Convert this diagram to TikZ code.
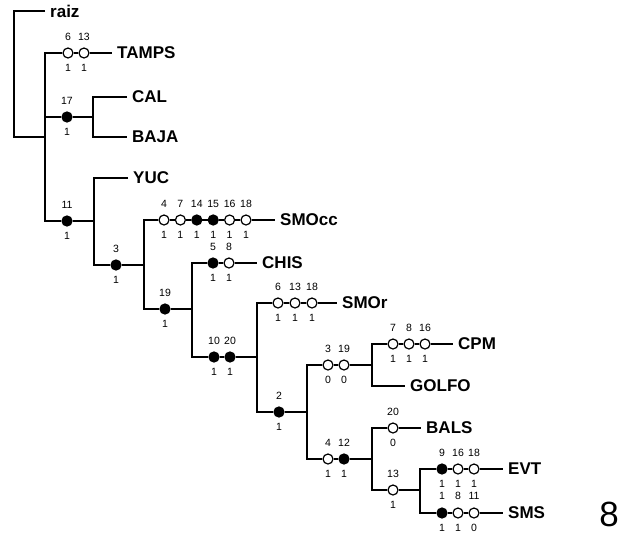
\documentclass[tikz,border=0pt]{standalone}
\usepackage{fontspec}
\setmainfont{Liberation Sans}
\usetikzlibrary{positioning}

\tikzset{
  br/.style={line width=2pt},
  opn/.style={circle,draw,fill=white,line width=1.2pt,minimum size=10pt,inner sep=0pt},
  fil/.style={opn,fill=black},
  num/.style={font=\fontsize{10.5}{12}\selectfont,inner sep=0pt,align=center},
  taxon/.style={anchor=west,inner xsep=5pt,inner ysep=0pt,
                font=\fontsize{17}{19}\selectfont\bfseries}
}
% character change on a branch: name, x, y, style, character, state
\newcommand{\apo}[6]{%
  \node[#4] (#1) at (#2,#3) {};
  \node[num,above=6.5pt of #1] (#1t) {#5};
  \node[num,below=5pt of #1] (#1b) {#6};}
% same, with the state only
\newcommand{\apob}[5]{%
  \node[#4] (#1) at (#2,#3) {};
  \node[num,below=5pt of #1] (#1b) {#5};}

\begin{document}
\begin{tikzpicture}[x=1pt,y=-1pt]
  \useasboundingbox (0,0) rectangle (621,544);

  % internal nodes of the tree
  \coordinate (R) at (14,137);
  \coordinate (A) at (45,137);
  \coordinate (B) at (93,117);
  \coordinate (C) at (94,221);
  \coordinate (D) at (144,265);
  \coordinate (E) at (192,309);
  \coordinate (F) at (257,357);
  \coordinate (G) at (307,412);
  \coordinate (H) at (372,365);
  \coordinate (I) at (372,459);
  \coordinate (J) at (420,490);

  % terminals
  \node[taxon] (raiz)  at (45,11)   {raiz};
  \node[taxon] (tamps) at (112,53)  {TAMPS};
  \node[taxon] (cal)   at (127,97)  {CAL};
  \node[taxon] (baja)  at (127,137) {BAJA};
  \node[taxon] (yuc)   at (128,178) {YUC};
  \node[taxon] (smocc) at (275,220) {SMOcc};
  \node[taxon] (chis)  at (257,263) {CHIS};
  \node[taxon] (smor)  at (337,303) {SMOr};
  \node[taxon] (cpm)   at (453,344) {CPM};
  \node[taxon] (golfo) at (405,386) {GOLFO};
  \node[taxon] (bals)  at (421,428) {BALS};
  \node[taxon] (evt)   at (503,469) {EVT};
  \node[taxon] (sms)   at (503,513) {SMS};

  % characters
  \apo{t6}{68}{53}{opn}{6}{1}
  \apo{t13}{84}{53}{opn}{13}{1}
  \apo{c17}{67}{117}{fil}{17}{1}
  \apo{c11}{67}{221}{fil}{11}{1}
  \apo{c3}{116}{265}{fil}{3}{1}
  \apo{s4}{164}{220}{opn}{4}{1}
  \apo{s7}{180.4}{220}{opn}{7}{1}
  \apo{s14}{196.8}{220}{fil}{14}{1}
  \apo{s15}{213.2}{220}{fil}{15}{1}
  \apo{s16}{229.6}{220}{opn}{16}{1}
  \apo{s18}{246}{220}{opn}{18}{1}
  \apo{c19}{165}{309}{fil}{19}{1}
  \apo{h5}{213}{263}{fil}{5}{1}
  \apo{h8}{229}{263}{opn}{8}{1}
  \apo{c10}{214}{357}{fil}{10}{1}
  \apo{c20}{230}{357}{fil}{20}{1}
  \apo{r6}{278}{303}{opn}{6}{1}
  \apo{r13}{295}{303}{opn}{13}{1}
  \apo{r18}{312}{303}{opn}{18}{1}
  \apo{c2}{279}{412}{fil}{2}{1}
  \apo{k3}{328}{365}{opn}{3}{0}
  \apo{k19}{344}{365}{opn}{19}{0}
  \apo{p7}{393}{344}{opn}{7}{1}
  \apo{p8}{409}{344}{opn}{8}{1}
  \apo{p16}{425}{344}{opn}{16}{1}
  \apo{k4}{328}{459}{opn}{4}{1}
  \apo{k12}{344}{459}{fil}{12}{1}
  \apo{b20}{393}{428}{opn}{20}{0}
  \apo{b13}{393}{490}{opn}{13}{1}
  \apo{e9}{442}{469}{fil}{9}{1\\1}
  \apo{e16}{458}{469}{opn}{16}{1\\8}
  \apo{e18}{474}{469}{opn}{18}{1\\11}
  \apob{m9}{442}{513}{fil}{1}
  \apob{m16}{458}{513}{opn}{1}
  \apob{m18}{474}{513}{opn}{0}

  % branches
  \draw[br] (raiz) -| (R) -- (A);
  \draw[br] (t6) -| (A) |- (c11);
  \draw[br] (t6) -- (t13) -- (tamps);
  \draw[br] (A |- c17) -- (c17) -- (B);
  \draw[br] (cal) -| (B) |- (baja);
  \draw[br] (c11) -- (C);
  \draw[br] (yuc) -| (C) |- (c3);
  \draw[br] (c3) -- (D);
  \draw[br] (s4) -| (D) |- (c19);
  \draw[br] (s4) -- (s7) -- (s14) -- (s15) -- (s16) -- (s18) -- (smocc);
  \draw[br] (c19) -- (E);
  \draw[br] (h5) -| (E) |- (c10);
  \draw[br] (h5) -- (h8) -- (chis);
  \draw[br] (c10) -- (c20) -- (F);
  \draw[br] (r6) -| (F) |- (c2);
  \draw[br] (r6) -- (r13) -- (r18) -- (smor);
  \draw[br] (c2) -- (G);
  \draw[br] (k3) -| (G) |- (k4);
  \draw[br] (k3) -- (k19) -- (H);
  \draw[br] (k4) -- (k12) -- (I);
  \draw[br] (p7) -| (H) |- (golfo);
  \draw[br] (p7) -- (p8) -- (p16) -- (cpm);
  \draw[br] (b20) -| (I) |- (b13);
  \draw[br] (b20) -- (bals);
  \draw[br] (b13) -- (J);
  \draw[br] (e9) -| (J) |- (m9);
  \draw[br] (e9) -- (e16) -- (e18) -- (evt);
  \draw[br] (m9) -- (m16) -- (m18) -- (sms);

  \node[font=\fontsize{35}{40}\selectfont,inner sep=0pt] (panel) at (609,514) {8};
\end{tikzpicture}
\end{document}
